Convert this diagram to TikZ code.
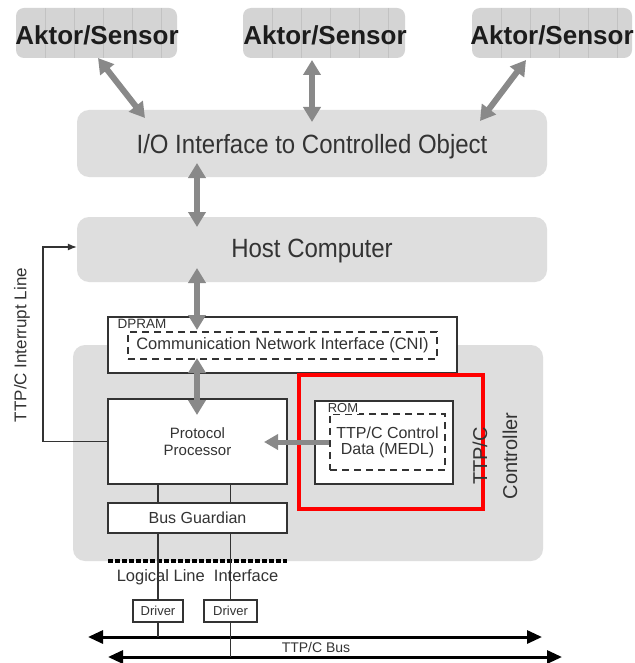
\documentclass[tikz,border=0pt]{standalone}
\usepackage{fontspec}
\setmainfont{Liberation Sans}
\usetikzlibrary{arrows.meta,calc}
\definecolor{boxgray}{HTML}{DEDEDE}
\definecolor{akgray}{HTML}{D4D4D4}
\definecolor{akline}{HTML}{C2C2C2}
\definecolor{arrgray}{HTML}{898989}
\definecolor{txt}{HTML}{333333}
\definecolor{akt}{HTML}{1C1C1C}
\definecolor{redbox}{HTML}{FF0000}
\newcommand\fsz[2]{\fontsize{#1}{#2}\selectfont}
\begin{document}
\begin{tikzpicture}[x=1pt,y=-1pt,
  akbox/.style={fill=akgray, rounded corners=8pt, inner sep=0pt, minimum height=50pt},
  graybox/.style={fill=boxgray, rounded corners=12pt, inner sep=0pt, text=txt},
  wbox/.style={draw=txt, fill=white, line width=1.1pt, inner sep=0pt, text=txt},
  dbox/.style={draw=txt, dash pattern=on 7pt off 5pt, line width=1.1pt, inner sep=0pt, text=txt},
  lbl/.style={fill=white, inner sep=1pt, text=txt},
  bigtext/.style={text=txt, inner sep=0pt, font=\fsz{24}{28}},
  bigarrow/.style={draw=arrgray, line width=6pt, {Triangle[length=15pt,width=17pt]}-{Triangle[length=15pt,width=17pt]}},
  midarrow/.style={draw=arrgray, line width=5pt, -{Triangle[length=14pt,width=15pt]}},
  thinline/.style={draw=txt, line width=1.1pt},
  busarrow/.style={draw=black, line width=3pt, {Triangle[length=15pt,width=13pt]}-{Triangle[length=15pt,width=13pt]}},
  dotline/.style={draw=black, line width=3.5pt, dash pattern=on 4.5pt off 2.5pt},
  akttext/.style={text=akt, font=\fsz{26}{30}\bfseries}
]
\useasboundingbox (0,0) rectangle (634,663);
\fill[white] (0,0) rectangle (634,663);

% Aktor/Sensor boxes
\node[akbox, minimum width=161pt] (as1) at (96.5,33) {};
\node[akbox, minimum width=162pt] (as2) at (324,33) {};
\node[akbox, minimum width=160pt] (as3) at (552,33) {};
\foreach \b in {as1,as2,as3}{
  \foreach \k in {1,...,5}{
    \draw[akline, line width=0.6pt] ($(\b.north west)+(29*\k,0)$) -- ($(\b.south west)+(29*\k,0)$);
  }
}
\node[akttext] (t1) at (97,35) {Aktor/Sensor};
\node[akttext] (t2) at (325,35) {Aktor/Sensor};
\node[akttext] (t3) at (552,35) {Aktor/Sensor};

% big gray boxes
\node[graybox, minimum width=470pt, minimum height=67pt] (io) at (312,143.5) {};
\node[bigtext] (iot) at (312,147) {\scalebox{1}[1.1]{I/O Interface to Controlled Object}};
\node[graybox, minimum width=470pt, minimum height=65pt] (host) at (312,249.5) {};
\node[bigtext] (hostt) at (312,251) {\scalebox{1}[1.1]{Host Computer}};
\node[graybox, minimum width=470pt, minimum height=216pt] (ctrl) at (308,453) {};

% DPRAM
\node[wbox, minimum width=349pt, minimum height=56pt] (dpram) at (282.5,345) {};
\node[dbox, minimum width=309pt, minimum height=27pt] (cni) at (282.5,345.5)
  {\fsz{16.5}{18}Communication Network Interface (CNI)};
\node[lbl, font=\fsz{13.5}{14}] (dpl) at (142,324) {DPRAM};

% Protocol processor, ROM
\node[wbox, minimum width=179pt, minimum height=85pt, align=center, font=\fsz{15}{17}] (proto) at (197.5,441.5)
  {Protocol\\Processor};
\node[wbox, minimum width=138pt, minimum height=83pt] (rom) at (384,442.5) {};
\node[dbox, minimum width=115pt, minimum height=56pt, align=center, font=\fsz{16}{16}] (medl) at (387.5,442)
  {TTP/C Control\\Data (MEDL)};
\node[lbl, font=\fsz{13}{14}] (roml) at (343,408.5) {ROM};

% red highlight
\node[draw=redbox, line width=4pt, minimum width=184pt, minimum height=134pt, inner sep=0pt] (red) at (391,442) {};

% Bus guardian
\node[wbox, minimum width=179pt, minimum height=30pt, font=\fsz{16}{18}] (bg) at (197.5,518) {Bus Guardian};

% controller label
\node[rotate=90, align=center, text=txt, font=\fsz{20}{30}] (ctl) at (495,456) {TTP/C\\Controller};

% interrupt line
\node[rotate=90, text=txt, font=\fsz{17}{19}] (intl) at (22,345) {TTP/C Interrupt Line};
\coordinate (ic) at (43,247);
\draw[thinline, -{Latex[length=9pt,width=7pt]}] (proto.west) -| (ic) -- (ic -| host.west);

% gray arrows
\coordinate (a1s) at (98,58);  \coordinate (a1e) at (145,118);
\coordinate (a2s) at (312,60); \coordinate (a2e) at (312,122);
\coordinate (a3s) at (526,60); \coordinate (a3e) at (480,121);
\coordinate (a4s) at (197,163); \coordinate (a4e) at (197,227);
\coordinate (a5s) at (197,268); \coordinate (a5e) at (197,330);
\coordinate (a6s) at (197,358); \coordinate (a6e) at (197,415);
\draw[bigarrow] (a1s) -- (a1e);
\draw[bigarrow] (a2s) -- (a2e);
\draw[bigarrow] (a3s) -- (a3e);
\draw[bigarrow] (a4s) -- (a4e);
\draw[bigarrow] (a5s) -- (a5e);
\draw[bigarrow] (a6s) -- (a6e);
\coordinate (pa) at (264,442);
\draw[midarrow] (medl.west) -- (pa);

% logical line interface
\coordinate (ll1) at (108,561); \coordinate (ll2) at (287,561);
\draw[dotline] (ll1) -- (ll2);
\node[text=txt, font=\fsz{16.5}{18}] (lli) at (197.5,577) {Logical Line\ \ Interface};

% drivers
\node[wbox, minimum width=50pt, minimum height=22pt, font=\fsz{13}{14}] (drv1) at (158,611) {Driver};
\node[wbox, minimum width=53pt, minimum height=22pt, font=\fsz{13}{14}] (drv2) at (230.5,611) {Driver};

% bus
\coordinate (b1l) at (88,637);  \coordinate (b1r) at (542,637);
\coordinate (b2l) at (108,657); \coordinate (b2r) at (562,657);
\draw[busarrow] (b1l) -- (b1r);
\draw[busarrow] (b2l) -- (b2r);
\node[text=txt, font=\fsz{14}{16}] (busl) at (316,647.5) {TTP/C Bus};

% vertical lines
\draw[thinline] (drv1 |- proto.south) -- (drv1 |- bg.north);
\draw[thinline] (drv2 |- proto.south) -- (drv2 |- bg.north);
\draw[thinline] (drv1 |- bg.south) -- (drv1.north);
\draw[thinline] (drv2 |- bg.south) -- (drv2.north);
\draw[thinline] (drv1.south) -- (drv1 |- b1l);
\draw[thinline] (drv2.south) -- (drv2 |- b2l);
\end{tikzpicture}
\end{document}
